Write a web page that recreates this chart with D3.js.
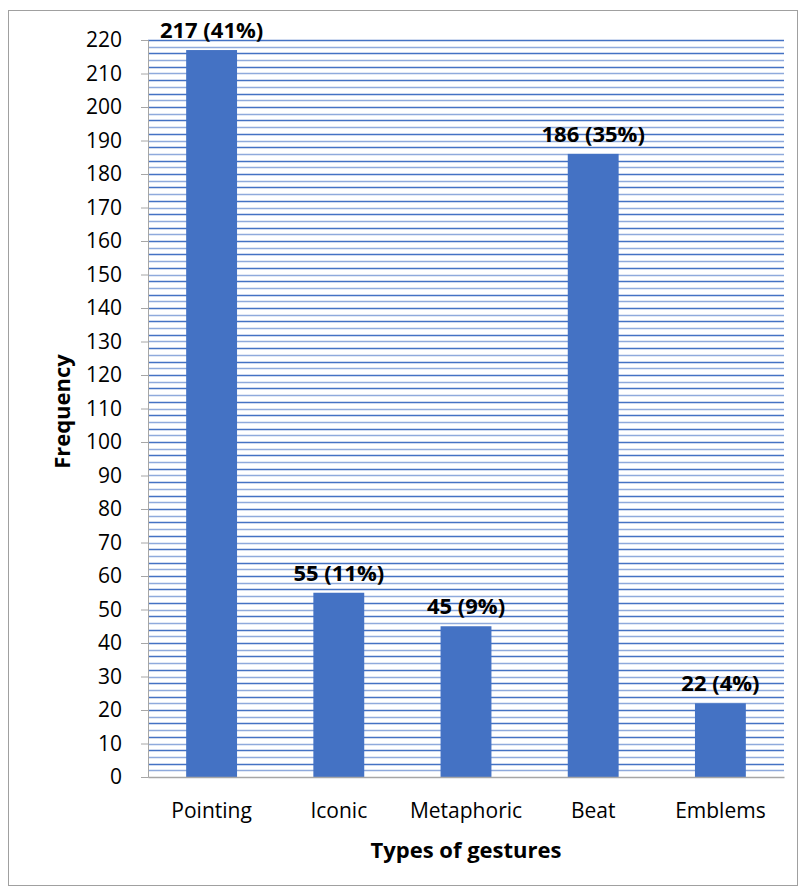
<!DOCTYPE html>
<html>
<head>
<meta charset="utf-8">
<script src="https://cdn.jsdelivr.net/npm/d3@7"></script>
<style>
  html, body { margin: 0; padding: 0; background: #fff; }
  svg { display: block; }
  text { font-family: "Open Sans", "Noto Sans", sans-serif; fill: #000; }
</style>
</head>
<body>
<svg id="chart" width="800" height="893"></svg>
<script>
// Gesture counts and their share of all gestures
const categories = ["Pointing", "Iconic", "Metaphoric", "Beat", "Emblems"];
const frequencies = [217, 55, 45, 186, 22];
const percents = ["41%", "11%", "9%", "35%", "4%"];
const yTicks = d3.range(0, 221, 10);
const xTitle = "Types of gestures";
const yTitle = "Frequency";

const svg = d3.select("#chart");
const plot = { left: 148, right: 784, top: 40, bottom: 777 };
const fontFamily = '"Open Sans", "Noto Sans", sans-serif';
const fontSize = 21;
const boldSize = 22;

// Outer chart border
svg.append("rect")
  .attr("x", 8.5).attr("y", 10.5).attr("width", 789).attr("height", 875)
  .attr("fill", "#fff").attr("stroke", "#a0a0a0").attr("stroke-width", 1);

const x = d3.scaleBand().domain(categories).range([plot.left, plot.right]).padding(0);
const y = d3.scaleLinear().domain([0, 220]).range([plot.bottom, plot.top]);

// Fine horizontal gridlines every 2 units
const grid = d3.range(2, 221, 2);
svg.append("g").selectAll("line").data(grid).join("line")
  .attr("x1", plot.left).attr("x2", plot.right)
  .attr("y1", d => Math.round(y(d)) + 0.5).attr("y2", d => Math.round(y(d)) + 0.5)
  .attr("stroke", (d, i) => i % 2 ? "#4472c4" : "#8faadc")
  .attr("stroke-width", 1.3);

// Bars
const barW = x.bandwidth() * 0.4;
svg.append("g").selectAll("rect").data(frequencies).join("rect")
  .attr("x", (d, i) => x(categories[i]) + (x.bandwidth() - barW) / 2)
  .attr("y", d => y(d))
  .attr("width", barW)
  .attr("height", d => y(0) - y(d))
  .attr("fill", "#4472c4");

// Value labels
svg.append("g").selectAll("text").data(frequencies).join("text")
  .attr("x", (d, i) => x(categories[i]) + x.bandwidth() / 2)
  .attr("y", d => y(d) - 12)
  .attr("text-anchor", "middle")
  .attr("font-size", boldSize).attr("font-weight", "bold")
  .text((d, i) => `${d} (${percents[i]})`);

// Y axis
const yAxis = svg.append("g").attr("transform", `translate(${plot.left},0)`)
  .call(d3.axisLeft(y).tickValues(yTicks).tickSize(7).tickPadding(19));
yAxis.select(".domain").attr("stroke", "#a6a6a6");
yAxis.selectAll(".tick line").attr("stroke", "#a6a6a6");
yAxis.selectAll(".tick text").attr("font-size", fontSize).attr("fill", "#000")
  .style("font-family", fontFamily);

// X axis
const xAxis = svg.append("g").attr("transform", `translate(0,${plot.bottom})`)
  .call(d3.axisBottom(x).tickSize(0));
xAxis.select(".domain").attr("stroke", "#a6a6a6").attr("stroke-width", 1.5);
xAxis.selectAll(".tick text")
  .attr("y", 41).attr("dy", null)
  .attr("font-size", fontSize).attr("fill", "#000")
  .style("font-family", fontFamily);

// Axis titles
svg.append("text")
  .attr("x", (plot.left + plot.right) / 2).attr("y", 858)
  .attr("text-anchor", "middle")
  .attr("font-size", boldSize).attr("font-weight", "bold")
  .text(xTitle);
svg.append("text")
  .attr("transform", `translate(70,${(plot.top + plot.bottom) / 2 + 3}) rotate(-90)`)
  .attr("text-anchor", "middle")
  .attr("font-size", boldSize).attr("font-weight", "bold")
  .text(yTitle);
</script>
</body>
</html>
